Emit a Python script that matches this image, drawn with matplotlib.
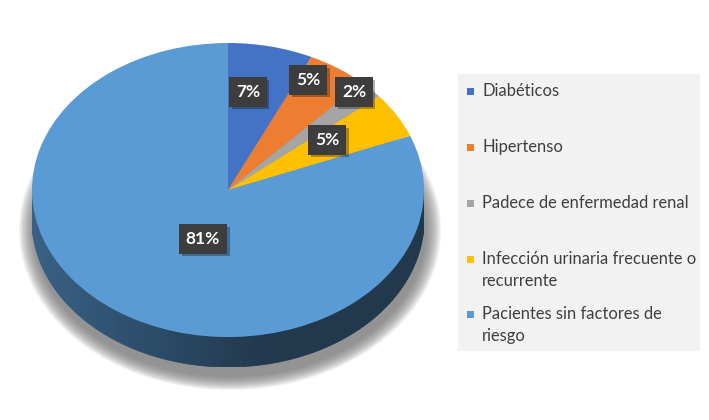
import numpy as np
import matplotlib
matplotlib.use("Agg")
import matplotlib.pyplot as plt
from matplotlib.patches import Ellipse, Rectangle, Polygon
import matplotlib.patheffects as pe

categories = ["Diabéticos", "Hipertenso", "Padece de enfermedad renal",
              "Infección urinaria frecuente o\nrecurrente",
              "Pacientes sin factores de\nriesgo"]
values = [7, 5, 2, 5, 81]
colors = ["#4472c4", "#ed7d31", "#a5a5a5", "#ffc000", "#5b9bd5"]

W, H = 709, 420
fig = plt.figure(figsize=(W / 100, H / 100), dpi=100)
fig.patch.set_facecolor("white")

# background axes in pixel coords
bg = fig.add_axes([0, 0, 1, 1])
bg.set_xlim(0, W)
bg.set_ylim(H, 0)
bg.axis("off")

# pie geometry (pixels)
cx, cy, rx, ry, depth = 228, 190, 196, 147, 30

# soft shadow
for i in range(14):
    k = i / 13.0
    e = Ellipse((cx + 2, cy + depth + 10), 2 * (rx + 15 - 15 * k), 2 * (ry + 13 - 13 * k),
                facecolor="#707070", edgecolor="none", alpha=0.09)
    bg.add_patch(e)

pax = fig.add_axes([(cx - rx) / W, 1 - (cy + ry + depth) / H, 2 * rx / W, (2 * ry + depth) / H])
pax.axis("off")
d = depth / ry

# side band (front half), with horizontal shading
side_base = np.array([0x5b, 0x9b, 0xd5]) / 255.0
n = 120
ts = np.linspace(np.pi, 2 * np.pi, n + 1)
for j in range(n):
    t0, t1 = ts[j], ts[j + 1]
    tm = 0.5 * (t0 + t1)
    xm = np.cos(tm)
    f = 0.66 - 0.28 * np.clip((xm + 1) / 1.2, 0, 1)
    col = side_base * f * 0.95
    poly = Polygon([[np.cos(t0), np.sin(t0)], [np.cos(t1), np.sin(t1)],
                    [np.cos(t1), np.sin(t1) - d], [np.cos(t0), np.sin(t0) - d]],
                   closed=True, facecolor=col, edgecolor=col, linewidth=0.6)
    pax.add_patch(poly)

wedges, _ = pax.pie(values, colors=colors, startangle=90, counterclock=False,
                    radius=1, wedgeprops=dict(linewidth=0))
pax.set_aspect("auto")
pax.set_xlim(-1, 1)
pax.set_ylim(-1 - d, 1)

# overlay axes for labels and legend
ov = fig.add_axes([0, 0, 1, 1])
ov.set_xlim(0, W)
ov.set_ylim(H, 0)
ov.axis("off")
ov.patch.set_alpha(0)

label_pos = [(248, 92), (308, 80), (354, 92), (327, 140), (203, 239)]
for v, (x, y) in zip(values, label_pos):
    t = ov.text(x, y, f"{v}%", ha="center", va="center", fontsize=12.5,
                fontweight="bold", color="white", family="Lato", zorder=6,
                bbox=dict(boxstyle="square,pad=0.38", facecolor="#3d3d3d", edgecolor="none"))
    t.get_bbox_patch().set_path_effects([
        pe.SimplePatchShadow(offset=(2, -2), shadow_rgbFace="#000000", alpha=0.3),
        pe.Normal()])

# legend
ov.add_patch(Rectangle((458, 74), 242, 277, facecolor="#f2f2f2", edgecolor="none", zorder=1))
leg_y = [91, 147, 203, 259, 314]
for lab, col, y in zip(categories, colors, leg_y):
    ov.add_patch(Rectangle((467, y - 3.5), 7, 7, facecolor=col, edgecolor="none", zorder=2))
    ov.text(482, y - 8, lab, ha="left", va="top", fontsize=11.9, color="#404040",
            family="Lato", linespacing=1.45, zorder=3)

fig.savefig("out.png", dpi=100)
